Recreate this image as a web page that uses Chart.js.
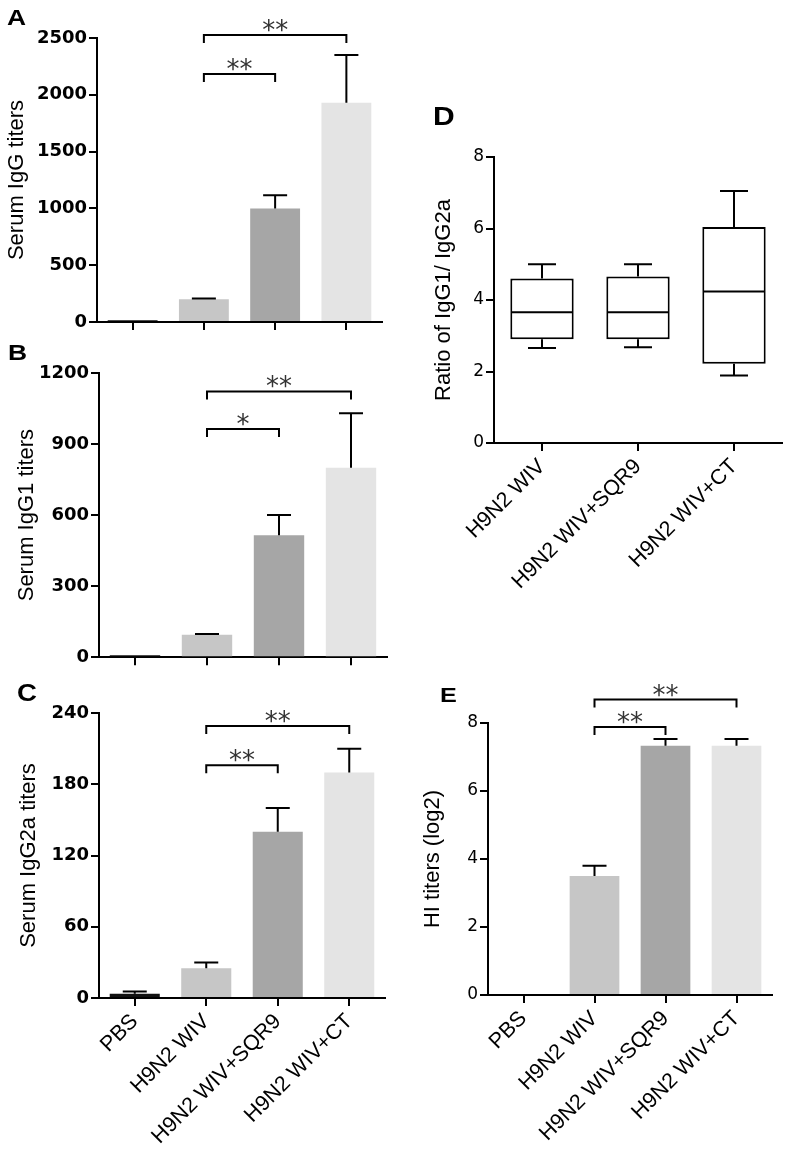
<!DOCTYPE html>
<html>
<head>
<meta charset="utf-8">
<script src="https://cdn.jsdelivr.net/npm/chart.js@4.4.1/dist/chart.umd.min.js"></script>
<style>
  body { margin: 0; background: #fff; width: 787px; height: 1149px; position: relative; overflow: hidden;
         font-family: "Liberation Sans", Arial, sans-serif; }
  canvas { position: absolute; }
  .lbl { position: absolute; font-weight: bold; line-height: 1; color: #000; transform: scaleX(1.2); transform-origin: left top; }
</style>
</head>
<body>
<canvas id="chartA" width="392" height="340" style="left:0;top:0"></canvas>
<canvas id="chartB" width="397" height="335" style="left:0;top:335px"></canvas>
<canvas id="chartC" width="395" height="479" style="left:0;top:670px"></canvas>
<canvas id="chartD" width="397" height="505" style="left:390px;top:95px"></canvas>
<canvas id="chartE" width="397" height="509" style="left:390px;top:640px"></canvas>

<div class="lbl" style="left:7px;top:7px;font-size:22px">A</div>
<div class="lbl" style="left:8px;top:342px;font-size:22px">B</div>
<div class="lbl" style="left:17px;top:682px;font-size:23px">C</div>
<div class="lbl" style="left:433px;top:104px;font-size:25px">D</div>
<div class="lbl" style="left:440px;top:684px;font-size:21px">E</div>

<script>
const groups = ['PBS', 'H9N2 WIV', 'H9N2 WIV+SQR9', 'H9N2 WIV+CT'];
const boxGroups = ['H9N2 WIV', 'H9N2 WIV+SQR9', 'H9N2 WIV+CT'];

// A - serum IgG
const igG = [15, 200, 1000, 1930];
const igGErr = [0, 6, 115, 420];
const sigA = [[1, 2, 2183, '**'], [1, 3, 2526, '**']];

// B - serum IgG1
const igG1 = [8, 95, 515, 800];
const igG1Err = [0, 3, 85, 230];
const sigB = [[1, 2, 964, '*'], [1, 3, 1122, '**']];

// C - serum IgG2a
const igG2a = [3.5, 25, 140, 190];
const igG2aErr = [2, 5, 20, 20];
const sigC = [[1, 2, 196, '**'], [1, 3, 229, '**']];

// D - IgG1/IgG2a ratio (box plot)
const ratioMin = [2.66, 2.68, 1.89];
const ratioQ1 = [2.9, 2.9, 2.22];
const ratioMedian = [3.66, 3.66, 4.24];
const ratioQ3 = [4.6, 4.66, 6.04];
const ratioMax = [5.0, 5.0, 7.05];

// E - HI titers
const hi = [0, 3.5, 7.33, 7.33];
const hiErr = [0, 0.3, 0.2, 0.2];
const sigE = [[1, 2, 7.88, '**'], [1, 3, 8.69, '**']];

const barColors = ['#111111', '#c6c6c6', '#a6a6a6', '#e4e4e4'];

Chart.defaults.font.family = '"Liberation Sans", Arial, sans-serif';
Chart.defaults.color = '#000';

function axisBase(tickLen) {
    return {
        grid: { drawOnChartArea: false, drawTicks: true, tickLength: tickLen, color: '#000', lineWidth: 2, offset: false },
        border: { display: true, color: '#000', width: 2 }
    };
}

function makeOptions(lay, yMax, yStep, yTitle) {
    const xAxis = axisBase(8);
    xAxis.ticks = lay.showLabels
        ? { display: true, minRotation: 45, maxRotation: 45, autoSkip: false, padding: 3, font: { size: 21.5 } }
        : { display: false };
    xAxis.afterFit = s => { s.height = lay.xHeight; };

    const yAxis = axisBase(8);
    yAxis.min = 0;
    yAxis.max = yMax;
    yAxis.ticks = { stepSize: yStep, padding: 2, font: lay.yFont, callback: v => String(v) };
    yAxis.title = { display: true, text: yTitle, font: { size: 22 }, padding: { top: lay.titlePad, bottom: 0 } };
    yAxis.afterFit = s => { s.width = lay.yWidth; };

    return {
        responsive: false,
        animation: false,
        events: [],
        layout: { padding: { top: lay.padTop, right: lay.padRight, left: 0, bottom: 0 } },
        plugins: { legend: { display: false }, tooltip: { enabled: false } },
        scales: { x: xAxis, y: yAxis }
    };
}

// error bars (upper only) and significance brackets
function extrasPlugin(values, errors, brackets) {
    return {
        id: 'extras',
        afterDatasetsDraw(chart) {
            const ctx = chart.ctx;
            const xs = chart.scales.x, ys = chart.scales.y;
            const meta = chart.getDatasetMeta(0);
            ctx.save();
            ctx.strokeStyle = '#000';
            ctx.lineWidth = 2;
            meta.data.forEach((bar, i) => {
                if (!errors[i]) return;
                const base = ys.getPixelForValue(values[i]);
                const top = ys.getPixelForValue(values[i] + errors[i]);
                ctx.beginPath();
                ctx.moveTo(bar.x, base);
                ctx.lineTo(bar.x, top);
                ctx.moveTo(bar.x - 12, top);
                ctx.lineTo(bar.x + 12, top);
                ctx.stroke();
            });
            ctx.font = '26px "DejaVu Sans", sans-serif';
            ctx.fillStyle = '#333';
            ctx.textAlign = 'center';
            ctx.textBaseline = 'alphabetic';
            brackets.forEach(([a, b, v, txt]) => {
                const x1 = xs.getPixelForValue(a), x2 = xs.getPixelForValue(b);
                const y = ys.getPixelForValue(v);
                ctx.beginPath();
                ctx.moveTo(x1, y + 8);
                ctx.lineTo(x1, y);
                ctx.lineTo(x2, y);
                ctx.lineTo(x2, y + 8);
                ctx.stroke();
                ctx.fillText(txt, (x1 + x2) / 2, y + 4);
            });
            ctx.restore();
        }
    };
}

function barPanel(id, values, errors, brackets, yMax, yStep, yTitle, lay) {
    new Chart(document.getElementById(id), {
        type: 'bar',
        data: {
            labels: groups,
            datasets: [{
                data: values,
                backgroundColor: barColors,
                borderWidth: 0,
                categoryPercentage: 1,
                barPercentage: 0.7
            }]
        },
        options: makeOptions(lay, yMax, yStep, yTitle),
        plugins: [extrasPlugin(values, errors, brackets)]
    });
}

const boldTicks = { family: '"DejaVu Sans", sans-serif', size: 18, weight: 'bold' };
const plainTicks = { family: '"DejaVu Sans", sans-serif', size: 17 };

barPanel('chartA', igG, igGErr, sigA, 2500, 500, 'Serum IgG titers',
    { showLabels: false, xHeight: 18, yWidth: 97, padTop: 38, padRight: 10, titlePad: 4, yFont: boldTicks });
barPanel('chartB', igG1, igG1Err, sigB, 1200, 300, 'Serum IgG1 titers',
    { showLabels: false, xHeight: 12, yWidth: 99, padTop: 38, padRight: 10, titlePad: 14, yFont: boldTicks });
barPanel('chartC', igG2a, igG2aErr, sigC, 240, 60, 'Serum IgG2a titers',
    { showLabels: true, xHeight: 151, yWidth: 99, padTop: 43, padRight: 10, titlePad: 16, yFont: boldTicks });
barPanel('chartE', hi, hiErr, sigE, 8, 2, 'HI titers (log2)',
    { showLabels: true, xHeight: 154, yWidth: 98, padTop: 83, padRight: 15, titlePad: 30, yFont: plainTicks });

// box plot: floating bar for the box, median and whiskers drawn from the scale
const boxPlugin = {
    id: 'boxWhiskers',
    afterDatasetsDraw(chart) {
        const ctx = chart.ctx;
        const ys = chart.scales.y;
        const meta = chart.getDatasetMeta(0);
        ctx.save();
        ctx.strokeStyle = '#000';
        ctx.lineWidth = 2;
        meta.data.forEach((bar, i) => {
            const half = bar.width / 2 - 1;
            const med = ys.getPixelForValue(ratioMedian[i]);
            const q1 = ys.getPixelForValue(ratioQ1[i]);
            const q3 = ys.getPixelForValue(ratioQ3[i]);
            const lo = ys.getPixelForValue(ratioMin[i]);
            const hiPx = ys.getPixelForValue(ratioMax[i]);
            ctx.beginPath();
            ctx.moveTo(bar.x - half, med);
            ctx.lineTo(bar.x + half, med);
            ctx.moveTo(bar.x, q3);
            ctx.lineTo(bar.x, hiPx);
            ctx.moveTo(bar.x - 14, hiPx);
            ctx.lineTo(bar.x + 14, hiPx);
            ctx.moveTo(bar.x, q1);
            ctx.lineTo(bar.x, lo);
            ctx.moveTo(bar.x - 14, lo);
            ctx.lineTo(bar.x + 14, lo);
            ctx.stroke();
        });
        ctx.restore();
    }
};

new Chart(document.getElementById('chartD'), {
    type: 'bar',
    data: {
        labels: boxGroups,
        datasets: [{
            data: ratioQ1.map((q, i) => [q, ratioQ3[i]]),
            backgroundColor: '#fff',
            borderColor: '#000',
            borderWidth: 2,
            borderSkipped: false,
            categoryPercentage: 1,
            barPercentage: 0.66
        }]
    },
    options: makeOptions({ showLabels: true, xHeight: 157, yWidth: 104, padTop: 62, padRight: 5, titlePad: 41, yFont: plainTicks },
        8, 2, 'Ratio of IgG1/ IgG2a'),
    plugins: [boxPlugin]
});
</script>
</body>
</html>
